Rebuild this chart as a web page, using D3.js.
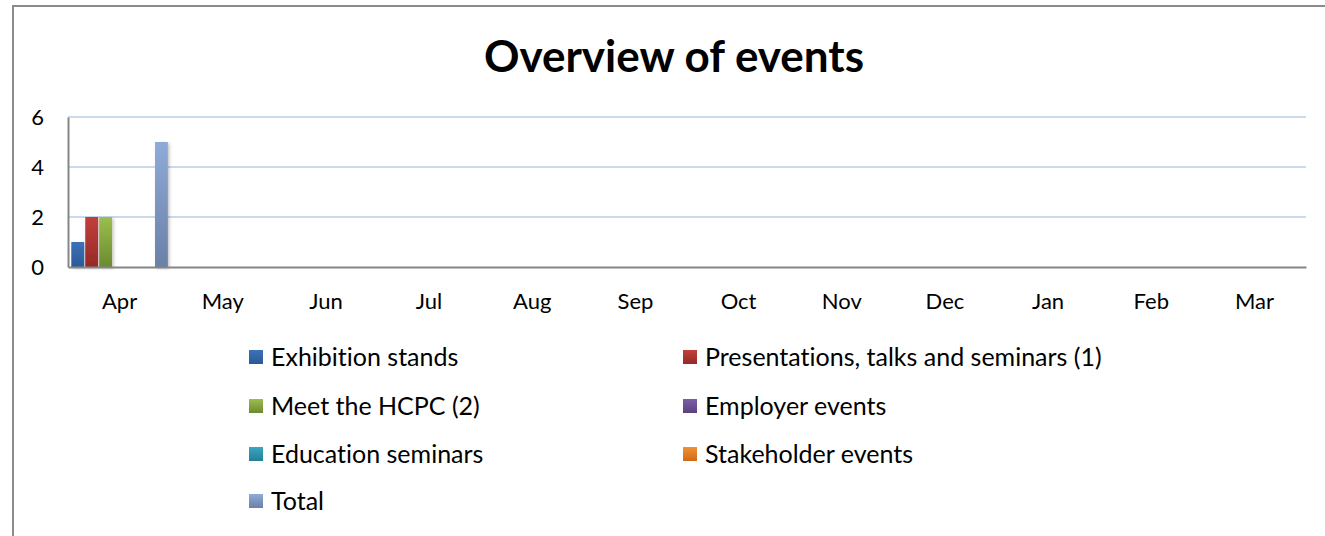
<!DOCTYPE html>
<html>
<head>
<meta charset="utf-8">
<script src="https://cdn.jsdelivr.net/npm/d3@7"></script>
<style>
  body { margin: 0; background: #fff; }
  text { font-family: Lato, "Open Sans", sans-serif; fill: #000; font-variant-ligatures: none; }
</style>
</head>
<body>
<div id="chart"></div>
<script>
var months = ["Apr", "May", "Jun", "Jul", "Aug", "Sep", "Oct", "Nov", "Dec", "Jan", "Feb", "Mar"];
var seriesNames = ["Exhibition stands", "Presentations, talks and seminars (1)", "Meet the HCPC (2)",
  "Employer events", "Education seminars", "Stakeholder events", "Total"];
var exhibition = [1, 0, 0, 0, 0, 0, 0, 0, 0, 0, 0, 0];
var presentations = [2, 0, 0, 0, 0, 0, 0, 0, 0, 0, 0, 0];
var meetHcpc = [2, 0, 0, 0, 0, 0, 0, 0, 0, 0, 0, 0];
var employer = [0, 0, 0, 0, 0, 0, 0, 0, 0, 0, 0, 0];
var education = [0, 0, 0, 0, 0, 0, 0, 0, 0, 0, 0, 0];
var stakeholder = [0, 0, 0, 0, 0, 0, 0, 0, 0, 0, 0, 0];
var total = [5, 0, 0, 0, 0, 0, 0, 0, 0, 0, 0, 0];
var yTicks = [0, 2, 4, 6];

var values = [exhibition, presentations, meetHcpc, employer, education, stakeholder, total];
// top / bottom of each bar gradient
var colors = [
  ["#3d72b8", "#2a5996"],
  ["#c23f3b", "#952a27"],
  ["#9cbd4f", "#6c8a2f"],
  ["#7c5ea6", "#5b417f"],
  ["#3aa6c0", "#237f96"],
  ["#f39137", "#cc6a18"],
  ["#8fabd8", "#6a80a7"]
];

var W = 1325, H = 536;
var margin = { left: 68, right: 19, top: 117, bottom: 269 };
var w = W - margin.left - margin.right;
var h = H - margin.top - margin.bottom;

var svg = d3.select("#chart").append("svg")
  .attr("width", W)
  .attr("height", H);

var defs = svg.append("defs");
colors.forEach(function(c, i) {
  var g = defs.append("linearGradient")
    .attr("id", "grad" + i)
    .attr("x1", 0).attr("y1", 0).attr("x2", 0).attr("y2", 1);
  g.append("stop").attr("offset", "0%").attr("stop-color", c[0]);
  g.append("stop").attr("offset", "100%").attr("stop-color", c[1]);
});
var f = defs.append("filter").attr("id", "shadow")
  .attr("x", "-50%").attr("y", "-10%").attr("width", "200%").attr("height", "130%");
f.append("feDropShadow").attr("dx", 1.5).attr("dy", 1.5).attr("stdDeviation", 1.5)
  .attr("flood-color", "#000").attr("flood-opacity", 0.25);

// outer frame (left and top edges visible)
svg.append("path")
  .attr("d", "M13,536 L13,6 L1325,6")
  .attr("fill", "none")
  .attr("stroke", "#8c8c8c")
  .attr("stroke-width", 2);

svg.append("text")
  .attr("x", 674)
  .attr("y", 72)
  .attr("text-anchor", "middle")
  .style("font-size", "44px")
  .style("font-weight", "bold")
  .text("Overview of events");

var g = svg.append("g")
  .attr("transform", "translate(" + margin.left + "," + margin.top + ")");

var x0 = d3.scaleBand().domain(months).range([0, w]);
var x1 = d3.scaleBand().domain(d3.range(seriesNames.length))
  .range([3.3, x0.bandwidth() - 3.3])
  .paddingInner(0.08);
var y = d3.scaleLinear().domain([0, 6]).range([h, 0]);

// gridlines
g.selectAll(".grid")
  .data(yTicks.filter(function(d) { return d > 0; }))
  .enter().append("line")
  .attr("x1", 0).attr("x2", w)
  .attr("y1", function(d) { return y(d); })
  .attr("y2", function(d) { return y(d); })
  .attr("stroke", "#b9cde6")
  .attr("stroke-width", 1.5);

// bars
var groups = g.selectAll(".month")
  .data(months)
  .enter().append("g")
  .attr("transform", function(d) { return "translate(" + x0(d) + ",0)"; });

groups.selectAll("rect")
  .data(function(m, mi) {
    return values.map(function(v, si) { return { s: si, v: v[mi] }; });
  })
  .enter().append("rect")
  .filter(function(d) { return d.v > 0; })
  .attr("x", function(d) { return x1(d.s); })
  .attr("width", x1.bandwidth())
  .attr("y", function(d) { return y(d.v); })
  .attr("height", function(d) { return h - y(d.v); })
  .attr("fill", function(d) { return "url(#grad" + d.s + ")"; })
  .attr("filter", "url(#shadow)");

// axes
var yAxis = g.append("g").call(d3.axisLeft(y).tickValues(yTicks).tickFormat(d3.format("d"))
  .tickSize(0).tickPadding(24));
yAxis.select(".domain").attr("stroke", "#868686").attr("stroke-width", 2);
yAxis.selectAll("text").style("font-size", "22px").attr("dy", "0.35em");

var xAxis = g.append("g")
  .attr("transform", "translate(0," + h + ")")
  .call(d3.axisBottom(x0).tickSize(0).tickPadding(26));
xAxis.select(".domain").attr("stroke", "#868686").attr("stroke-width", 2);
xAxis.selectAll("text").style("font-size", "22px");

// legend
var legendX = [249, 683];
var legendY = [357, 406, 454, 501];
var legend = svg.selectAll(".legend")
  .data(seriesNames)
  .enter().append("g")
  .attr("transform", function(d, i) {
    return "translate(" + legendX[i % 2] + "," + legendY[Math.floor(i / 2)] + ")";
  });
legend.append("rect")
  .attr("x", 0).attr("y", -7)
  .attr("width", 14).attr("height", 14)
  .attr("fill", function(d, i) { return "url(#grad" + i + ")"; });
legend.append("text")
  .attr("x", 22)
  .attr("y", 0)
  .attr("dy", "0.35em")
  .style("font-size", "25px")
  .text(function(d) { return d; });
</script>
</body>
</html>
